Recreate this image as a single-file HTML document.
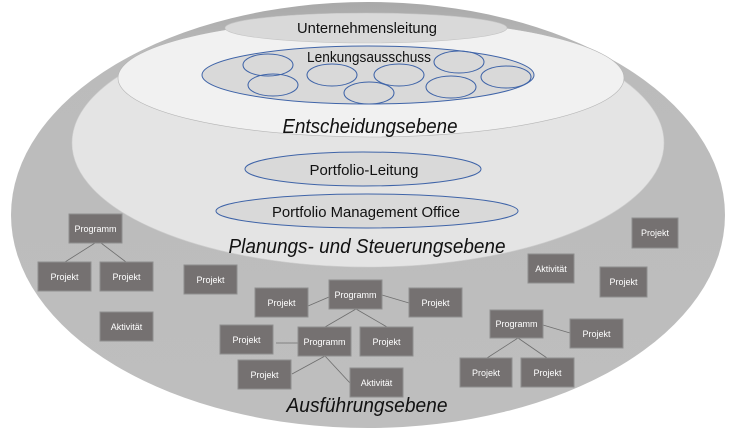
<!DOCTYPE html>
<html><head><meta charset="utf-8"><style>
html,body{margin:0;padding:0;background:#fff;width:734px;height:428px;overflow:hidden}
svg{display:block}
text{font-family:"Liberation Sans",sans-serif}
.b{fill:#757171;stroke:#8e8e8e;stroke-width:1}
.t{fill:#fff;font-size:9px;text-anchor:middle}
.l{stroke:#6e6e6e;stroke-width:0.8}
.c{fill:none;stroke:#3f64a8;stroke-width:1}
</style></head><body>
<svg width="734" height="428" viewBox="0 0 734 428">
<defs>
<linearGradient id="g" x1="0" y1="0" x2="0" y2="1">
<stop offset="0" stop-color="#a9a9a9"/><stop offset="0.12" stop-color="#bbbbbb"/><stop offset="1" stop-color="#bebebe"/>
</linearGradient>
</defs>
<ellipse cx="368" cy="215" rx="357" ry="213" fill="url(#g)"/>
<ellipse cx="368" cy="143" rx="296" ry="124" fill="#e4e4e4" stroke="#cfcfcf" stroke-width="0.6"/>
<ellipse cx="371" cy="78" rx="253" ry="59" fill="#f1f1f1" stroke="#b5b5b5" stroke-width="0.6"/>
<ellipse cx="366" cy="28" rx="141" ry="15" fill="#d9d9d9" stroke="#c4c4c4" stroke-width="0.6"/>
<text x="367" y="33" font-size="15" text-anchor="middle" fill="#111" textLength="140" lengthAdjust="spacingAndGlyphs">Unternehmensleitung</text>
<ellipse cx="368" cy="75" rx="166" ry="29" fill="#d9d9d9" stroke="#3f64a8" stroke-width="1"/>
<text x="369" y="62" font-size="15" text-anchor="middle" fill="#111" textLength="124" lengthAdjust="spacingAndGlyphs">Lenkungsausschuss</text>
<ellipse class="c" cx="268" cy="65" rx="25" ry="11"/>
<ellipse class="c" cx="273" cy="85" rx="25" ry="11"/>
<ellipse class="c" cx="332" cy="75" rx="25" ry="11"/>
<ellipse class="c" cx="399" cy="75" rx="25" ry="11"/>
<ellipse class="c" cx="369" cy="93" rx="25" ry="11"/>
<ellipse class="c" cx="459" cy="62" rx="25" ry="11"/>
<ellipse class="c" cx="451" cy="87" rx="25" ry="11"/>
<ellipse class="c" cx="506" cy="77" rx="25" ry="11"/>
<text x="370" y="133" font-size="20" font-style="italic" text-anchor="middle" fill="#111" textLength="175" lengthAdjust="spacingAndGlyphs">Entscheidungsebene</text>
<ellipse cx="363" cy="169" rx="118" ry="17" fill="#d9d9d9" stroke="#3f64a8" stroke-width="1"/>
<text x="364" y="175" font-size="15" text-anchor="middle" fill="#111" textLength="109" lengthAdjust="spacingAndGlyphs">Portfolio-Leitung</text>
<ellipse cx="367" cy="211" rx="151" ry="17" fill="#d9d9d9" stroke="#3f64a8" stroke-width="1"/>
<text x="366" y="217" font-size="15" text-anchor="middle" fill="#111" textLength="188" lengthAdjust="spacingAndGlyphs">Portfolio Management Office</text>
<text x="367" y="253" font-size="20" font-style="italic" text-anchor="middle" fill="#111" textLength="277" lengthAdjust="spacingAndGlyphs">Planungs- und Steuerungsebene</text>
<text x="367" y="412" font-size="20" font-style="italic" text-anchor="middle" fill="#111" textLength="161" lengthAdjust="spacingAndGlyphs">Ausführungsebene</text>

<g>
<line class="l" x1="65" y1="262" x2="95" y2="243"/><line class="l" x1="126" y1="262" x2="101" y2="243"/>
<line class="l" x1="308" y1="306" x2="329" y2="297"/><line class="l" x1="382" y1="295" x2="409" y2="303"/>
<line class="l" x1="356" y1="309" x2="325" y2="327"/><line class="l" x1="356" y1="309" x2="387" y2="327"/>
<line class="l" x1="276" y1="343" x2="298" y2="343"/>
<line class="l" x1="325" y1="356" x2="292" y2="374"/><line class="l" x1="325" y1="356" x2="350" y2="383"/>
<line class="l" x1="543" y1="325" x2="570" y2="333"/>
<line class="l" x1="518" y1="338" x2="487" y2="358"/><line class="l" x1="518" y1="338" x2="547" y2="358"/>
</g>
<g>
<rect class="b" x="69" y="214" width="53" height="29"/><text class="t" x="95.5" y="232">Programm</text>
<rect class="b" x="38" y="262" width="53" height="29"/><text class="t" x="64.5" y="280">Projekt</text>
<rect class="b" x="100" y="262" width="53" height="29"/><text class="t" x="126.5" y="280">Projekt</text>
<rect class="b" x="184" y="265" width="53" height="29"/><text class="t" x="210.5" y="283">Projekt</text>
<rect class="b" x="100" y="312" width="53" height="29"/><text class="t" x="126.5" y="330">Aktivität</text>
<rect class="b" x="329" y="280" width="53" height="29"/><text class="t" x="355.5" y="298">Programm</text>
<rect class="b" x="255" y="288" width="53" height="29"/><text class="t" x="281.5" y="306">Projekt</text>
<rect class="b" x="409" y="288" width="53" height="29"/><text class="t" x="435.5" y="306">Projekt</text>
<rect class="b" x="220" y="325" width="53" height="29"/><text class="t" x="246.5" y="343">Projekt</text>
<rect class="b" x="298" y="327" width="53" height="29"/><text class="t" x="324.5" y="345">Programm</text>
<rect class="b" x="360" y="327" width="53" height="29"/><text class="t" x="386.5" y="345">Projekt</text>
<rect class="b" x="238" y="360" width="53" height="29"/><text class="t" x="264.5" y="378">Projekt</text>
<rect class="b" x="350" y="368" width="53" height="29"/><text class="t" x="376.5" y="386">Aktivität</text>
<rect class="b" x="632" y="218" width="46" height="30"/><text class="t" x="655" y="236">Projekt</text>
<rect class="b" x="528" y="254" width="46" height="29"/><text class="t" x="551" y="272">Aktivität</text>
<rect class="b" x="600" y="267" width="47" height="30"/><text class="t" x="623.5" y="285">Projekt</text>
<rect class="b" x="490" y="310" width="53" height="28"/><text class="t" x="516.5" y="327">Programm</text>
<rect class="b" x="570" y="319" width="53" height="29"/><text class="t" x="596.5" y="337">Projekt</text>
<rect class="b" x="460" y="358" width="52" height="29"/><text class="t" x="486" y="376">Projekt</text>
<rect class="b" x="521" y="358" width="53" height="29"/><text class="t" x="547.5" y="376">Projekt</text>
</g>
</svg>
</body></html>
